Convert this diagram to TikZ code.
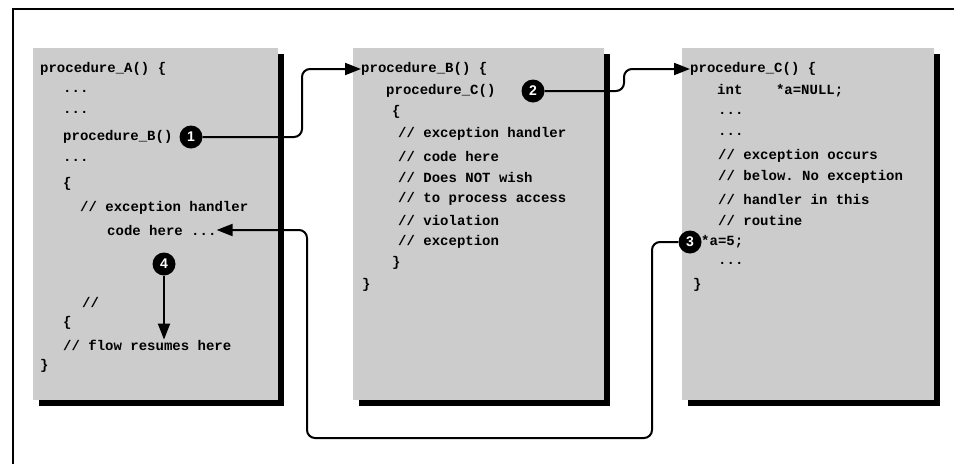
\documentclass[tikz,border=0pt]{standalone}
\usepackage{fontspec}
\setmonofont{Liberation Mono}
\setsansfont{Liberation Sans}
\usetikzlibrary{arrows.meta}
\begin{document}
\begin{tikzpicture}[x=1pt,y=-1pt,
  code/.style={font=\ttfamily\bfseries\fontsize{14}{16}\selectfont, anchor=west, inner sep=0pt},
  num/.style={circle, fill=black, text=white, font=\sffamily\bfseries\fontsize{14}{14}\selectfont, minimum size=23pt, inner sep=0pt},
  conn/.style={line width=2pt, rounded corners=8pt},
  tip/.style={-{Triangle[length=16pt,width=12pt]}},
  shade/.style={fill=black!20},
  shadow/.style={fill=black}]
\useasboundingbox (0,0) rectangle (954,464);
% frame
\draw[line width=1.2pt] (13,464) -- (13,9) -- (954,9);
% boxes
\fill[shadow] (39,54) rectangle (284,406);
\fill[shade] (33,48) rectangle (278,400);
\fill[shadow] (359,54) rectangle (610,406);
\fill[shade] (353,48) rectangle (604,400);
\fill[shadow] (688,54) rectangle (940,406);
\fill[shade] (682,48) rectangle (934,400);
% box A
\node[code] (a1) at (40,69) {procedure\_A() \{};
\node[code] (a2) at (63,91) {...};
\node[code] (a3) at (63,112) {...};
\node[code] (a4) at (63,137) {procedure\_B()};
\node[code] (a5) at (63,160) {...};
\node[code] (a6) at (63,184) {\{};
\node[code] (a7) at (80,208) {// exception handler};
\node[code] (a8) at (107,230) {code here ...};
\node[code] (a9) at (82,302) {//};
\node[code] (a10) at (63,323) {\{};
\node[code] (a11) at (63,345) {// flow resumes here};
\node[code] (a12) at (40,366) {\}};
% box B
\node[code] (b1) at (361,69) {procedure\_B() \{};
\node[code] (b2) at (386,91) {procedure\_C()};
\node[code] (b3) at (392,112) {\{};
\node[code] (b4) at (398,134) {// exception handler};
\node[code] (b5) at (398,156) {// code here};
\node[code] (b6) at (398,177) {// Does NOT wish};
\node[code] (b7) at (398,199) {// to process access};
\node[code] (b8) at (398,220) {// violation};
\node[code] (b9) at (398,242) {// exception};
\node[code] (b10) at (392,263) {\}};
\node[code] (b11) at (362,285) {\}};
% box C
\node[code] (c1) at (690,69) {procedure\_C() \{};
\node[code] (c2) at (717,91) {int\ \ \ \ *a=NULL;};
\node[code] (c3) at (718,113) {...};
\node[code] (c4) at (718,134) {...};
\node[code] (c5) at (718,156) {// exception occurs};
\node[code] (c6) at (718,177) {// below. No exception};
\node[code] (c7) at (718,199) {// handler in this};
\node[code] (c8) at (718,220) {// routine};
\node[code] (c9) at (701,242) {*a=5;};
\node[code] (c10) at (718,263) {...};
\node[code] (c11) at (693,285) {\}};
% numbered markers
\node[num] (n1) at (191,137) {1};
\node[num] (n2) at (533,91) {2};
\node[num] (n3) at (690,242) {3};
\node[num] (n4) at (164,264) {4};
% connectors
\draw[conn,tip] (n1) -- (302,137) -- (302,69) -- (b1.west);
\draw[conn,tip] (n2) -- (624,91) -- (624,69) -- (c1.west);
\draw[conn,tip] (n3) -- (652,242) -- (652,438) -- (307,438) -- (307,230) -- (a8.east);
\draw[line width=2pt,tip] (n4) -- (a11.north -| n4);
\end{tikzpicture}
\end{document}
